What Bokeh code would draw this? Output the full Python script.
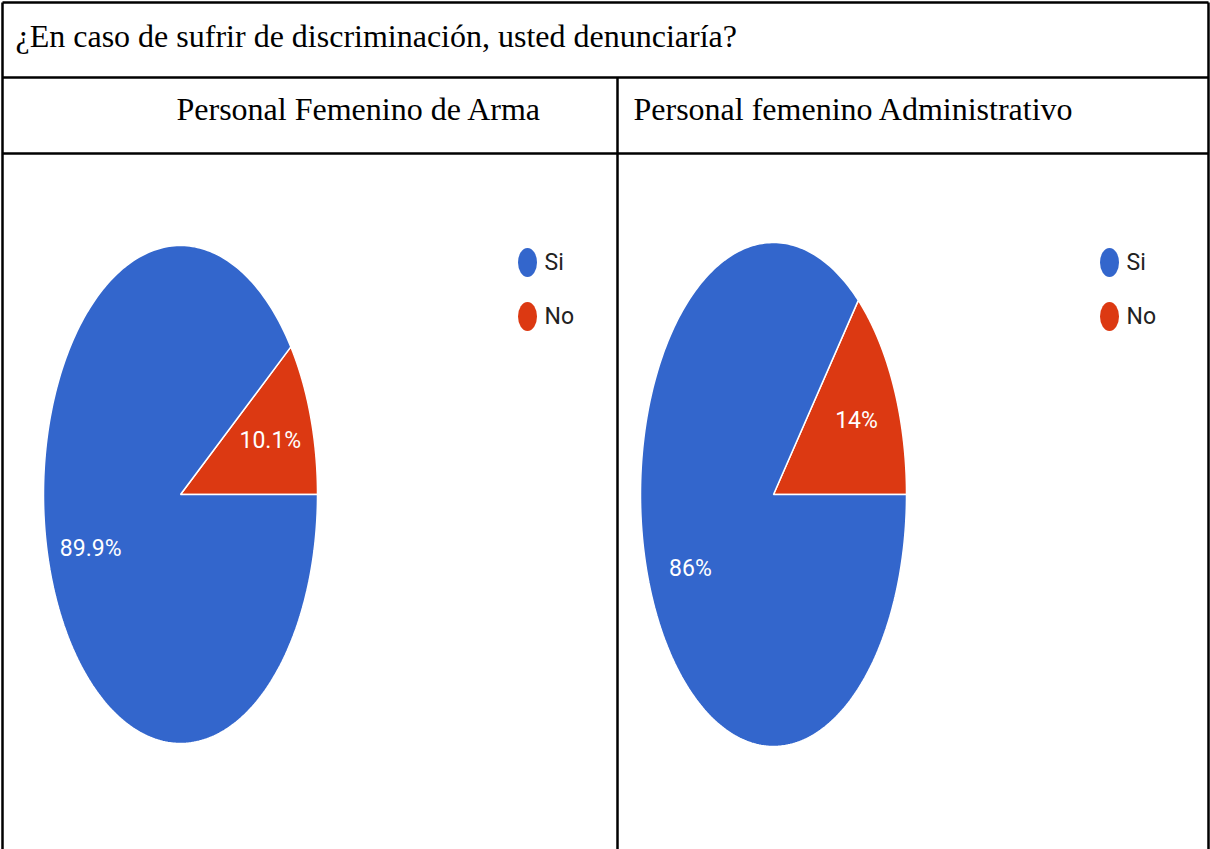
import numpy as np
from bokeh.plotting import figure
from bokeh.models import ColumnDataSource, Range1d
from bokeh.core.properties import value
from bokeh.embed import file_html
from bokeh.resources import INLINE

# ---------------- data ----------------
title_text = "¿En caso de sufrir de discriminación, usted denunciaría?"
groups = ["Personal Femenino de Arma", "Personal femenino Administrativo"]
categories = ["Si", "No"]
si_values = [89.9, 86.0]
no_values = [10.1, 14.0]
colors = ["#3366CC", "#DC3912"]

# ---------------- layout (reference pixel space) ----------------
W, H = 1210, 849
p = figure(width=W, height=H, x_range=Range1d(0, 1210), y_range=Range1d(849, 0),
           output_backend="svg", toolbar_location=None, min_border=0,
           x_axis_location=None, y_axis_location=None)
p.grid.visible = False
p.outline_line_color = None
p.background_fill_color = "white"

sans = value("Roboto")

# table lines
p.segment(x0=[2, 2, 2], y0=[2, 77, 153], x1=[1208, 1208, 1208], y1=[2, 77, 153],
          line_color="black", line_width=2.5)
p.segment(x0=[2, 617, 1208], y0=[2, 77, 2], x1=[2, 617, 1208], y1=[849, 849, 849],
          line_color="black", line_width=2.5)

# table texts
p.text(x=[15], y=[35], text=[title_text], text_font=value("Liberation Serif"),
       text_font_size="32px", text_color="black", text_baseline="alphabetic")
p.text(x=[176, 633], y=[108, 108], text=groups, text_font=value("Liberation Serif"),
       text_font_size="32px", text_color="black", text_baseline="alphabetic")

centers = [(180, 494), (773, 494)]
radii = [(137, 249), (133, 252)]
legend_x = [527, 1109]
legend_y = [262, 316]
label_frac = 0.69

for gi in range(len(groups)):
    cx, cy = centers[gi]
    rx, ry = radii[gi]
    vals = [si_values[gi], no_values[gi]]
    # slices drawn counter-clockwise from 3 o'clock: "No" first, then "Si"
    order = [1, 0]
    xs, ys, cols = [], [], []
    lx, ly, ltxt = [], [], []
    start = 0.0
    for k in order:
        frac = vals[k] / sum(vals)
        a0 = start
        a1 = start + 2 * np.pi * frac
        t = np.linspace(a0, a1, 300)
        xs.append(np.concatenate([[cx], cx + rx * np.cos(t)]).tolist())
        ys.append(np.concatenate([[cy], cy - ry * np.sin(t)]).tolist())
        cols.append(colors[k])
        mid = (a0 + a1) / 2
        lx.append(cx + label_frac * rx * np.cos(mid))
        ly.append(cy - label_frac * ry * np.sin(mid))
        ltxt.append(f"{vals[k]:g}%")
        start = a1
    src = ColumnDataSource(dict(xs=xs, ys=ys, color=cols))
    p.patches("xs", "ys", source=src, fill_color="color", line_color="white", line_width=1.5)
    p.text(x=lx, y=ly, text=ltxt, text_font=sans, text_font_size="23px",
           text_color="white", text_align="center", text_baseline="middle")
    # legend
    p.ellipse(x=[legend_x[gi]] * 2, y=legend_y, width=19, height=29,
              fill_color=colors, line_color=None)
    p.text(x=[legend_x[gi] + 17] * 2, y=legend_y, text=categories, text_font=sans,
           text_font_size="23px", text_color="#222222", text_align="left",
           text_baseline="middle")

open("out.html", "w").write(file_html(p, INLINE))
